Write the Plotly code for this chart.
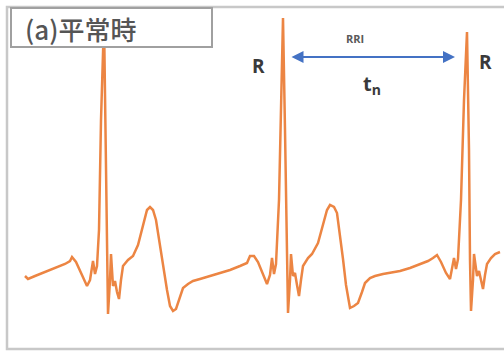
import plotly.graph_objects as go

# ECG trace: time (ms) and amplitude (mV)
time_ms = [0, 15, 50, 100, 150, 200, 225, 235, 255, 285, 310, 325, 340, 350, 360, 370, 380, 395, 405, 415,
           425, 430, 440, 450, 460, 470, 480, 490, 515, 540, 565, 590, 610, 625, 640, 655, 670, 690, 710, 725,
           740, 755, 775, 790, 815, 840, 875, 925, 975, 1025, 1075, 1110, 1125, 1145, 1165, 1190, 1210, 1225, 1235, 1245,
           1255, 1270, 1280, 1290, 1300, 1310, 1315, 1325, 1330, 1340, 1350, 1360, 1370, 1380, 1390, 1415, 1435, 1465, 1490, 1510,
           1525, 1545, 1560, 1575, 1590, 1605, 1625, 1645, 1665, 1685, 1700, 1725, 1750, 1790, 1825, 1875, 1925, 1975, 2015, 2040,
           2060, 2080, 2105, 2125, 2135, 2145, 2155, 2165, 2180, 2195, 2210, 2220, 2225, 2230, 2240, 2245, 2260, 2270, 2280, 2290,
           2300, 2310, 2330, 2350, 2375]
voltage_mv = [-0.03, -0.045, -0.03, -0.01, 0.01, 0.03, 0.045, 0.065, 0.04, -0.025, -0.08, -0.05, 0.045, -0.02, 0.02, 0.2, 0.75, 1.25, 0.6, -0.22,
              -0.05, 0.08, -0.08, -0.055, -0.11, -0.145, -0.05, 0.02, 0.05, 0.07, 0.125, 0.225, 0.3, 0.315, 0.3, 0.25, 0.15, 0.025, -0.1, -0.18,
              -0.205, -0.195, -0.14, -0.09, -0.07, -0.055, -0.045, -0.03, -0.015, 0.0, 0.02, 0.035, 0.07, 0.07, 0.04, -0.025, -0.07, -0.025, 0.06, -0.02,
              0.03, 0.35, 0.85, 1.26, 0.7, 0.05, -0.215, -0.05, 0.08, -0.03, -0.015, -0.075, -0.13, -0.05, 0.02, 0.06, 0.08, 0.135, 0.225, 0.3,
              0.325, 0.315, 0.285, 0.175, 0.055, -0.075, -0.19, -0.18, -0.165, -0.11, -0.065, -0.04, -0.03, -0.02, -0.015, -0.005, 0.01, 0.03, 0.045, 0.06,
              0.075, 0.04, -0.015, -0.045, 0.0, 0.06, 0.005, 0.055, 0.35, 0.85, 1.19, 0.6, 0.05, -0.205, -0.05, 0.08, -0.03, -0.005, -0.05, -0.095,
              -0.025, 0.03, 0.06, 0.08, 0.09]

# annotation anchors
r_labels = ["R", "R"]
r_label_t = [1165, 2300]
r_label_v = [1.02, 1.04]
rri_start_t = 1325
rri_end_t = 2150
rri_v = 1.065
rri_label = "RRI"
tn_label = "t<sub>n</sub>"
panel_title = "(a)平常時"

fig = go.Figure()
fig.add_trace(go.Scatter(x=time_ms, y=voltage_mv, mode="lines",
                         line=dict(color="#EC8543", width=2.5), hoverinfo="skip", showlegend=False))

for lab, t, v in zip(r_labels, r_label_t, r_label_v):
    fig.add_annotation(x=t, y=v, text="<b>" + lab + "</b>", showarrow=False,
                       font=dict(family="Open Sans, Arial", size=19, color="#3A3A3A"))

fig.add_annotation(x=rri_end_t, y=rri_v, ax=rri_start_t, ay=rri_v, axref="x", ayref="y",
                   xref="x", yref="y", text="", showarrow=True, arrowside="end+start",
                   arrowhead=2, arrowsize=1.2, arrowwidth=2, arrowcolor="#4472C4")
fig.add_annotation(x=1650, y=1.16, text="<b>" + rri_label + "</b>", showarrow=False,
                   font=dict(family="Open Sans, Arial", size=11, color="#5A5A5A"))
fig.add_annotation(x=1735, y=0.93, text="<b>" + tn_label + "</b>", showarrow=False,
                   font=dict(family="Open Sans, Arial", size=20, color="#3A3A3A"))

# outer frame
fig.add_shape(type="rect", xref="paper", yref="paper", x0=7/504, x1=1.02, y0=1-349/352, y1=1-7/352,
              line=dict(color="#C8C8C8", width=2.5), fillcolor="rgba(0,0,0,0)", layer="above")
# title box
fig.add_shape(type="rect", xref="paper", yref="paper", x0=11/504, x1=212/504, y0=1-47/352, y1=1-8/352,
              line=dict(color="#A0A0A0", width=2), fillcolor="white", layer="above")
fig.add_annotation(xref="paper", yref="paper", x=23/504, y=1-28/352, xanchor="left", yanchor="middle",
                   text=panel_title, showarrow=False,
                   font=dict(family="Noto Sans CJK JP", size=26, color="#555555", weight=500))

fig.update_layout(width=504, height=352, margin=dict(l=0, r=0, t=0, b=0),
                  paper_bgcolor="white", plot_bgcolor="white",
                  xaxis=dict(range=[-125, 2395], visible=False, fixedrange=True),
                  yaxis=dict(range=[-0.41, 1.35], visible=False, fixedrange=True))

fig.write_html("out.html")
